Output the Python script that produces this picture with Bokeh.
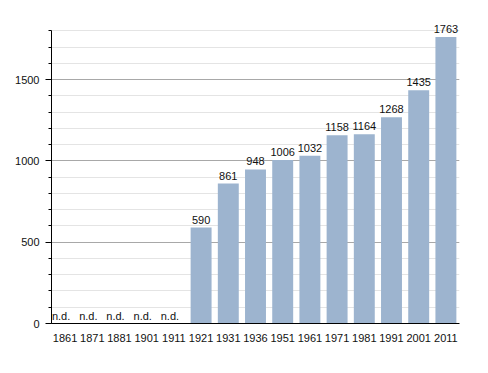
from bokeh.plotting import figure
from bokeh.models import ColumnDataSource, SingleIntervalTicker, FactorRange, Range1d, LabelSet
from bokeh.core.properties import value
from bokeh.embed import file_html
from bokeh.resources import INLINE

years = ["1861", "1871", "1881", "1901", "1911", "1921", "1931", "1936",
         "1951", "1961", "1971", "1981", "1991", "2001", "2011"]
population = [None, None, None, None, None, 590, 861, 948,
              1006, 1032, 1158, 1164, 1268, 1435, 1763]

FONT = "Liberation Sans"

bar_years = [y for y, v in zip(years, population) if v is not None]
bar_vals = [v for v in population if v is not None]
nd_years = [y for y, v in zip(years, population) if v is None]

src = ColumnDataSource(dict(x=bar_years, top=bar_vals, label=[str(v) for v in bar_vals]))
nd_src = ColumnDataSource(dict(x=nd_years, y=[0] * len(nd_years), label=["n.d."] * len(nd_years)))

p = figure(width=480, height=365, x_range=FactorRange(*years, range_padding=0),
           y_range=Range1d(0, 1870), output_backend="svg", toolbar_location=None,
           min_border_left=51, min_border_right=21, min_border_top=19, min_border_bottom=42)
p.outline_line_color = None

p.vbar(x="x", top="top", width=0.77, source=src, fill_color="#9db4cf", line_color=None)
p.add_layout(LabelSet(x="x", y="top", text="label", source=src, text_align="center",
                      text_baseline="bottom", y_offset=4, text_font=value(FONT),
                      text_font_size="11px", text_color="#111111"))
p.add_layout(LabelSet(x="x", y="y", text="label", source=nd_src, text_align="center",
                      text_baseline="bottom", y_offset=2, x_offset=-4, text_font=value(FONT),
                      text_font_size="11px", text_color="#111111"))

p.yaxis.ticker = SingleIntervalTicker(interval=500, num_minor_ticks=5)
p.yaxis.bounds = (0, 1800)
p.yaxis.axis_line_color = "black"
p.yaxis.major_tick_line_color = "black"
p.yaxis.minor_tick_line_color = "black"
p.yaxis.major_tick_out = 6
p.yaxis.major_tick_in = 0
p.yaxis.minor_tick_out = 3
p.yaxis.minor_tick_in = 0
p.yaxis.major_label_standoff = 6
p.yaxis.major_label_text_font = FONT
p.yaxis.major_label_text_font_size = "11px"
p.yaxis.major_label_text_color = "#111111"

p.xaxis.axis_line_color = "black"
p.xaxis.major_tick_line_color = None
p.xaxis.minor_tick_line_color = None
p.xaxis.major_label_standoff = 4
p.xaxis.major_label_text_font = FONT
p.xaxis.major_label_text_font_size = "11px"
p.xaxis.major_label_text_color = "#111111"

p.xgrid.grid_line_color = None
p.ygrid.grid_line_color = "#a8a8a8"
p.ygrid.minor_grid_line_color = "#e4e4e4"

open("out.html", "w").write(file_html(p, INLINE))
